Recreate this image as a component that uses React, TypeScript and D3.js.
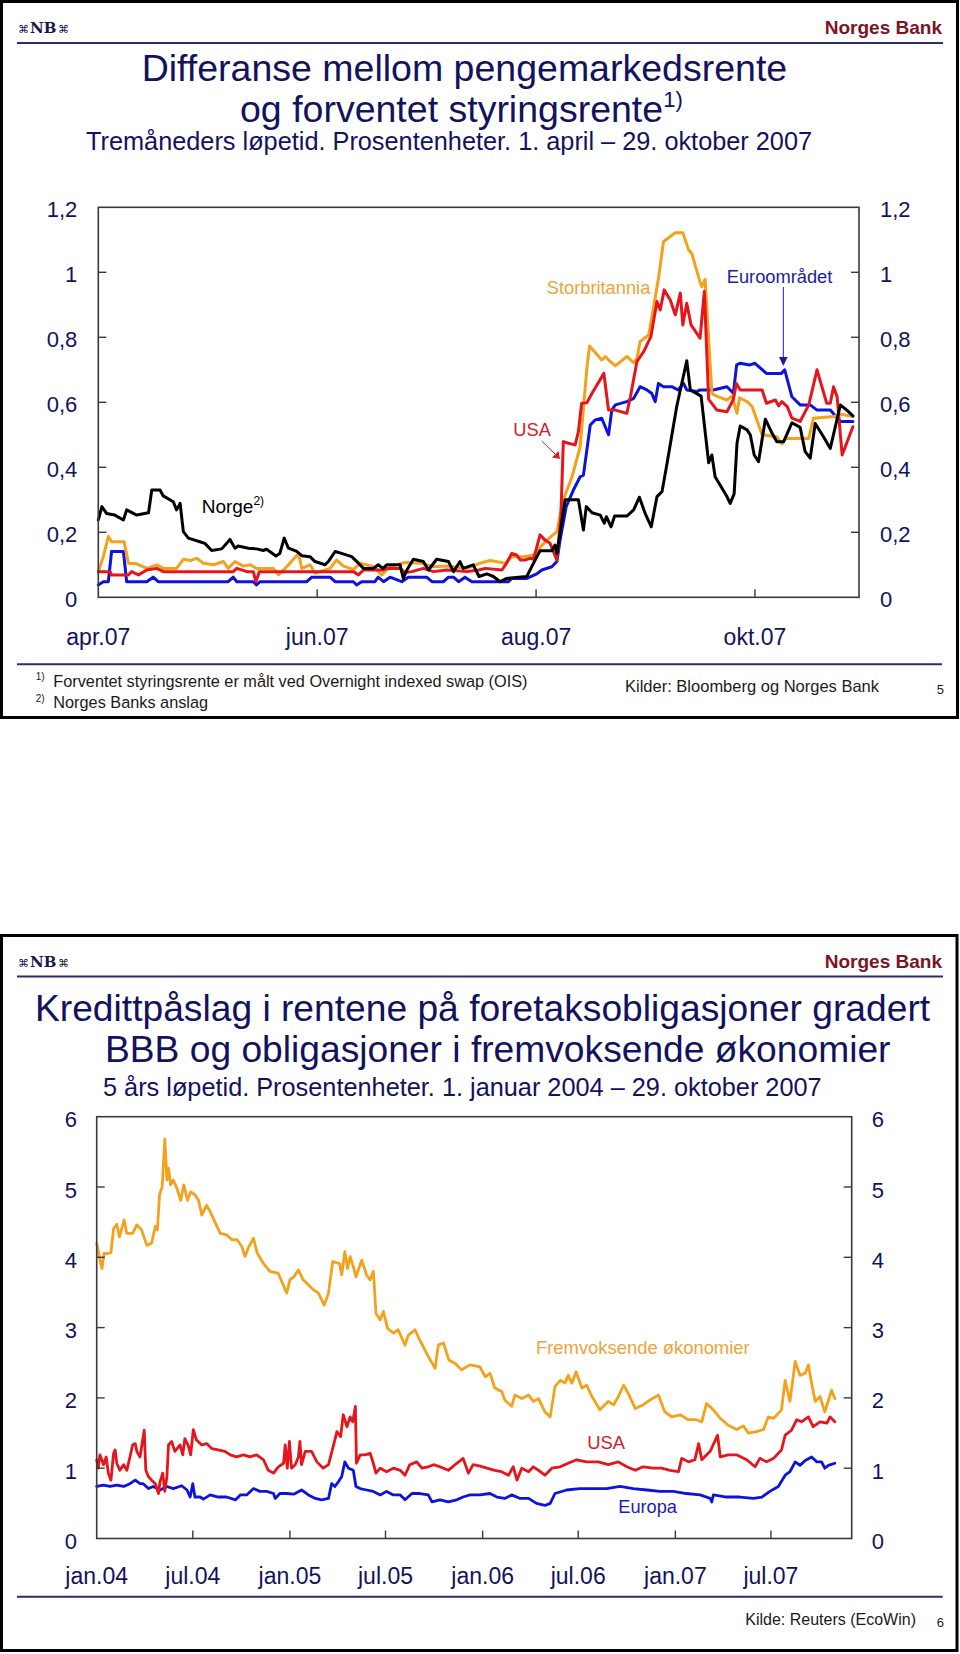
import React from "react";
import * as d3 from "d3";

const FONT = "'Liberation Sans', Arial, Helvetica, sans-serif";
const NAVY = "#12125e";
const ORANGE = "#f4a11c";
const RED = "#e8141c";
const BLUE = "#0c14dc";
const BLACK = "#000000";
const AXIS = "#3a3a3a";

// ---------------- Chart 1 : Differanse mellom pengemarkedsrente og forventet styringsrente ----------------
// x values: days after 1 April 2007
const TOP_BASE = "2007-04-01";
const TOP_END = "2007-10-30";
const topXTickDates = ["2007-04-01", "2007-06-01", "2007-08-01", "2007-10-01"];
const topXTickLabels = ["apr.07", "jun.07", "aug.07", "okt.07"];
const topYTicks = [0, 0.2, 0.4, 0.6, 0.8, 1, 1.2];
const topYTickLabels = ["0", "0,2", "0,4", "0,6", "0,8", "1", "1,2"];

const norge: [number, number][] = [
  [0, 0.238], [1, 0.279], [2.3, 0.258], [4.6, 0.253], [7, 0.238], [7.9, 0.269], [10.7, 0.253], [14, 0.26],
  [14.9, 0.33], [17.2, 0.33], [18.1, 0.312], [20.9, 0.294], [21.8, 0.269], [22.8, 0.289], [23.7, 0.202],
  [25.1, 0.182], [28.3, 0.171], [29.7, 0.166], [31.6, 0.144], [34.4, 0.149], [36.7, 0.178], [38.1, 0.151],
  [39, 0.158], [41.8, 0.151], [44.1, 0.149], [46, 0.144], [46.9, 0.148], [49.5, 0.127], [50.6, 0.135],
  [51.8, 0.182], [53, 0.151], [55.3, 0.141], [56.7, 0.128], [59, 0.125], [60.4, 0.11], [63.2, 0.1],
  [64.1, 0.11], [66, 0.141], [67.8, 0.135], [70.6, 0.125], [72.5, 0.105], [73.9, 0.089], [76.7, 0.089],
  [78, 0.1], [79.3, 0.089], [80.4, 0.1], [84.1, 0.1], [85, 0.058], [86, 0.084], [87.8, 0.117], [90.6, 0.11],
  [92, 0.084], [94.3, 0.117], [97.6, 0.11], [99, 0.079], [100.8, 0.11], [101.7, 0.089], [104.5, 0.1],
  [106.1, 0.064], [108.3, 0.072], [110.1, 0.064], [112, 0.048], [113.8, 0.058], [119.4, 0.064],
  [121.3, 0.105], [123.1, 0.143], [126.4, 0.143], [127.3, 0.161], [127.8, 0.135], [130.1, 0.3],
  [133.8, 0.3], [135.2, 0.207], [136, 0.279], [137.6, 0.26], [139.9, 0.253], [141, 0.228], [141.6, 0.248],
  [142.9, 0.217], [143.9, 0.25], [147.3, 0.25], [149.2, 0.269], [150.8, 0.308], [152.4, 0.258],
  [154.1, 0.217], [155.7, 0.31], [157.1, 0.325], [158.5, 0.412], [161.2, 0.587], [164, 0.728], [165, 0.638],
  [168, 0.619], [170.1, 0.414], [171, 0.438], [171.9, 0.371], [175.2, 0.31], [176.1, 0.289], [177.2, 0.318],
  [178, 0.474], [178.9, 0.527], [180.8, 0.515], [181.7, 0.5], [182.8, 0.438], [184, 0.417], [185.9, 0.548],
  [188, 0.5], [189.1, 0.479], [191, 0.479], [193.3, 0.537], [195.6, 0.523], [197, 0.448], [198.4, 0.428],
  [199.8, 0.535], [202.1, 0.494], [204, 0.458], [206.8, 0.592], [208.6, 0.576], [210.3, 0.558],
];

const storbritannia: [number, number][] = [
  [0, 0.079], [1.4, 0.125], [2.8, 0.187], [3.7, 0.171], [7.2, 0.171], [8.4, 0.105], [10.7, 0.103],
  [13.5, 0.089], [16.3, 0.1], [18.1, 0.089], [21.8, 0.089], [23.7, 0.117], [25.6, 0.113], [27.4, 0.12],
  [29.3, 0.105], [32.1, 0.1], [34.9, 0.11], [36.2, 0.089], [38.1, 0.11], [40.4, 0.096], [42.3, 0.1],
  [44.1, 0.089], [48.8, 0.089], [50.2, 0.069], [52.5, 0.094], [55.8, 0.135], [56.7, 0.089], [59, 0.1],
  [60.4, 0.074], [64.6, 0.089], [66.4, 0.115], [68.3, 0.096], [71.1, 0.086], [73, 0.105], [76.7, 0.094],
  [79, 0.069], [81.3, 0.094], [85.5, 0.107], [89.7, 0.105], [93.4, 0.094], [97.1, 0.096], [102.7, 0.089],
  [106.4, 0.105], [109.2, 0.113], [113.4, 0.105], [115.2, 0.125], [118.5, 0.125], [121.3, 0.13],
  [125, 0.176], [127.8, 0.202], [129.6, 0.3], [132, 0.37], [134.3, 0.464], [136.2, 0.71], [136.9, 0.773],
  [138.5, 0.753], [140.3, 0.73], [141.3, 0.741], [142.7, 0.725], [144.1, 0.712], [147.3, 0.741],
  [149.2, 0.722], [150.1, 0.735], [151, 0.787], [153.4, 0.807], [154.7, 0.889], [156.2, 0.987],
  [157.5, 1.094], [160.8, 1.122], [162.9, 1.122], [164.5, 1.069], [165.4, 1.058], [167.8, 0.966],
  [168.2, 0.956], [169.1, 0.978], [171, 0.628], [171.5, 0.623], [175.2, 0.607], [176.6, 0.619], [178, 0.566],
  [178.7, 0.614], [180.8, 0.602], [182.2, 0.587], [185, 0.5], [189.1, 0.494], [190.5, 0.472], [191.5, 0.489],
  [198, 0.489], [199.3, 0.551], [204.9, 0.556], [206.8, 0.564], [210.3, 0.556],
];

const usaTop: [number, number][] = [
  [0, 0.079], [3.3, 0.079], [3.7, 0.069], [8.4, 0.069], [9.3, 0.079], [11.2, 0.069], [13.5, 0.084],
  [16.3, 0.089], [18.1, 0.079], [37.6, 0.079], [38.6, 0.089], [41.4, 0.079], [43.2, 0.079], [43.9, 0.048],
  [44.9, 0.079], [71.1, 0.079], [72.5, 0.069], [73.9, 0.084], [79.5, 0.084], [80.4, 0.089], [84.1, 0.089],
  [85.5, 0.076], [87.4, 0.079], [90.6, 0.089], [93.4, 0.079], [97.1, 0.084], [102.7, 0.079], [106.1, 0.084],
  [107.8, 0.089], [112.5, 0.084], [113.8, 0.105], [115.2, 0.135], [116.6, 0.13], [117.6, 0.115], [119, 0.115],
  [120.3, 0.12], [121.3, 0.117], [123.1, 0.192], [124.5, 0.176], [125.9, 0.166], [127.8, 0.115],
  [128.9, 0.248], [129.6, 0.479], [131, 0.474], [132.9, 0.469], [133.8, 0.51], [134.7, 0.597], [136.2, 0.599],
  [137.6, 0.628], [140.9, 0.689], [142.2, 0.576], [144.1, 0.576], [147.3, 0.566], [148.3, 0.617],
  [150.1, 0.725], [152, 0.756], [154, 0.802], [155.7, 0.91], [156.6, 0.884], [157.7, 0.946], [159.4, 0.915],
  [160.8, 0.869], [162.2, 0.936], [162.9, 0.838], [164, 0.905], [165.2, 0.838], [167.7, 0.797],
  [168.9, 0.941], [170.1, 0.609], [172.4, 0.576], [175.2, 0.571], [177, 0.609], [177.8, 0.658],
  [178.9, 0.638], [185, 0.638], [186.2, 0.597], [188.7, 0.607], [189.6, 0.589], [190.5, 0.602], [192, 0.587],
  [193.3, 0.551], [195.6, 0.541], [198, 0.592], [200.3, 0.7], [203, 0.597], [204, 0.597], [204.9, 0.648],
  [205.9, 0.617], [207.3, 0.438], [210.3, 0.525],
];

const euroomradet: [number, number][] = [
  [0, 0.038], [1.4, 0.048], [2.8, 0.048], [3.7, 0.141], [7, 0.141], [7.9, 0.048], [13.5, 0.048],
  [15.3, 0.062], [16.7, 0.048], [36.2, 0.048], [37.6, 0.062], [38.6, 0.048], [43.2, 0.048], [44.1, 0.038],
  [45.1, 0.048], [58.1, 0.048], [59.5, 0.062], [64.6, 0.062], [66, 0.048], [71.1, 0.048], [72, 0.038],
  [73.4, 0.048], [77.1, 0.048], [78, 0.062], [79.5, 0.048], [81.3, 0.062], [84.6, 0.048], [86.4, 0.062],
  [91.5, 0.062], [93, 0.048], [96.2, 0.048], [97.6, 0.062], [99, 0.062], [100.4, 0.048], [102.2, 0.062],
  [104.1, 0.048], [114.3, 0.048], [115.2, 0.058], [119.4, 0.058], [122.2, 0.072], [123.6, 0.084],
  [126.4, 0.094], [127.8, 0.11], [128.7, 0.176], [130.4, 0.279], [132.4, 0.33], [134.3, 0.371],
  [135.2, 0.376], [136.6, 0.489], [137.1, 0.53], [138.5, 0.546], [140.3, 0.551], [142.2, 0.5],
  [143.1, 0.576], [144.1, 0.592], [147.3, 0.602], [149.2, 0.612], [151, 0.648], [152.9, 0.638],
  [154.2, 0.628], [155.2, 0.602], [156.1, 0.658], [157.5, 0.648], [159.8, 0.648], [161.6, 0.638],
  [163.1, 0.658], [164, 0.638], [166.8, 0.633], [167.7, 0.638], [171.4, 0.638], [175.2, 0.648], [177, 0.628],
  [177.9, 0.715], [178.8, 0.72], [181.6, 0.715], [183, 0.72], [186.2, 0.689], [190.4, 0.689], [191.3, 0.7],
  [193.3, 0.617], [195.6, 0.592], [198.4, 0.592], [200.3, 0.576], [204, 0.576], [206.8, 0.541], [210.3, 0.541],
];

// ---------------- Chart 2 : Kredittpåslag ----------------
// x values: days after 1 January 2004
const BOT_BASE = "2004-01-01";
const BOT_END = "2007-12-01";
const botXTickDates = ["2004-01-01", "2004-07-01", "2005-01-01", "2005-07-01", "2006-01-01", "2006-07-01", "2007-01-01", "2007-07-01"];
const botXTickLabels = ["jan.04", "jul.04", "jan.05", "jul.05", "jan.06", "jul.06", "jan.07", "jul.07"];
const botYTicks = [0, 1, 2, 3, 4, 5, 6];
const botYTickLabels = ["0", "1", "2", "3", "4", "5", "6"];

const fremvoksende: [number, number][] = [
  [0, 4.2], [5, 4.01], [10, 3.84], [14, 4.06], [20, 4.05], [27, 4.07], [32, 4.41], [38, 4.47], [43, 4.29],
  [52, 4.53], [57, 4.34], [68, 4.34], [76, 4.46], [85, 4.39], [95, 4.17], [104, 4.2], [111, 4.44], [115, 4.39],
  [119, 4.89], [124, 5.0], [129, 5.68], [133, 5.1], [136, 5.27], [140, 5.03], [145, 5.1], [152, 4.98],
  [159, 4.81], [165, 5.03], [172, 4.81], [178, 4.93], [186, 4.89], [193, 4.81], [199, 4.6], [208, 4.74],
  [215, 4.65], [224, 4.5], [234, 4.34], [246, 4.32], [256, 4.25], [266, 4.25], [275, 4.15], [281, 4.01],
  [288, 4.15], [297, 4.27], [304, 4.06], [316, 3.91], [328, 3.8], [344, 3.77], [352, 3.63], [360, 3.49],
  [366, 3.68], [373, 3.72], [382, 3.82], [391, 3.68], [401, 3.61], [410, 3.54], [420, 3.49], [431, 3.32],
  [439, 3.49], [447, 3.94], [460, 3.91], [464, 3.75], [470, 4.08], [475, 3.84], [480, 4.01], [486, 3.87],
  [491, 3.72], [502, 3.96], [511, 3.75], [518, 3.68], [524, 3.8], [529, 3.2], [537, 3.11], [543, 3.23],
  [551, 2.99], [562, 2.92], [571, 2.97], [584, 2.75], [590, 2.89], [603, 2.97], [612, 2.82], [628, 2.59],
  [641, 2.42], [647, 2.75], [657, 2.78], [667, 2.54], [679, 2.49], [691, 2.4], [707, 2.47], [726, 2.44],
  [736, 2.3], [745, 2.35], [754, 2.14], [767, 2.09], [773, 1.97], [786, 1.88], [792, 2.04], [805, 1.99],
  [818, 2.04], [827, 1.95], [837, 1.99], [849, 1.8], [859, 1.73], [868, 2.16], [878, 2.25], [887, 2.21],
  [893, 2.32], [900, 2.21], [908, 2.37], [919, 2.14], [928, 2.18], [938, 2.02], [953, 1.83], [969, 1.95],
  [979, 1.9], [988, 2.02], [998, 2.18], [1007, 2.06], [1020, 1.85], [1035, 1.9], [1048, 1.97], [1064, 2.04],
  [1076, 1.8], [1089, 1.73], [1105, 1.76], [1121, 1.69], [1136, 1.69], [1146, 1.66], [1155, 1.92],
  [1168, 1.83], [1181, 1.71], [1196, 1.61], [1212, 1.55], [1225, 1.6], [1234, 1.5], [1250, 1.52],
  [1263, 1.55], [1272, 1.73], [1282, 1.71], [1291, 1.78], [1297, 1.83], [1304, 2.25], [1313, 1.95],
  [1323, 2.52], [1332, 2.32], [1342, 2.35], [1348, 2.47], [1354, 2.21], [1361, 1.95], [1370, 2.02],
  [1379, 1.8], [1392, 2.11], [1398, 1.99],
];

const usaBot: [number, number][] = [
  [0, 1.12], [3, 1.0], [6, 1.19], [13, 1.05], [18, 1.16], [22, 0.93], [27, 0.83], [32, 1.21], [35, 1.26],
  [38, 1.07], [44, 0.97], [51, 1.05], [57, 0.97], [63, 1.16], [68, 1.33], [73, 1.35], [76, 1.24], [82, 1.16],
  [90, 1.54], [93, 0.97], [98, 0.88], [104, 0.83], [111, 0.78], [117, 0.64], [120, 0.81], [125, 0.93],
  [129, 0.67], [133, 0.88], [136, 1.33], [142, 1.38], [148, 1.24], [158, 1.33], [163, 1.19], [167, 1.42],
  [174, 1.31], [178, 1.19], [183, 1.55], [189, 1.4], [199, 1.33], [208, 1.35], [218, 1.28], [230, 1.26],
  [243, 1.24], [253, 1.19], [265, 1.16], [278, 1.19], [290, 1.16], [303, 1.19], [316, 1.12], [325, 0.97],
  [335, 0.93], [344, 1.02], [354, 1.07], [357, 1.33], [361, 1.0], [365, 1.38], [369, 1.0], [376, 1.05],
  [382, 1.16], [385, 1.38], [388, 1.05], [395, 1.24], [407, 1.24], [417, 1.09], [429, 1.0], [439, 1.05],
  [448, 1.31], [455, 1.52], [462, 1.45], [467, 1.76], [474, 1.59], [480, 1.73], [485, 1.66], [490, 1.88],
  [492, 1.07], [499, 1.19], [508, 1.19], [518, 1.21], [524, 1.07], [529, 0.93], [537, 1.0], [549, 0.95],
  [562, 1.0], [575, 0.97], [584, 0.9], [593, 1.05], [606, 1.09], [616, 1.0], [628, 1.02], [638, 1.05],
  [650, 1.02], [666, 0.97], [682, 1.07], [694, 1.14], [704, 0.93], [713, 1.05], [726, 1.03], [739, 1.0],
  [754, 0.97], [767, 0.95], [780, 0.9], [789, 1.02], [796, 0.83], [805, 1.0], [818, 0.95], [827, 1.02],
  [837, 0.97], [849, 0.9], [862, 1.0], [878, 1.02], [893, 1.07], [909, 1.12], [928, 1.09], [950, 1.09],
  [969, 1.05], [988, 1.09], [1004, 1.02], [1020, 0.97], [1035, 1.02], [1054, 1.0], [1070, 1.0], [1086, 0.97],
  [1102, 0.95], [1108, 1.14], [1121, 1.09], [1133, 1.12], [1140, 1.35], [1146, 1.12], [1162, 1.24],
  [1176, 1.47], [1181, 1.16], [1196, 1.19], [1212, 1.19], [1231, 1.12], [1247, 1.02], [1256, 1.14],
  [1269, 1.09], [1282, 1.14], [1297, 1.26], [1304, 1.47], [1316, 1.54], [1326, 1.69], [1335, 1.66],
  [1348, 1.73], [1357, 1.59], [1370, 1.66], [1383, 1.64], [1389, 1.73], [1398, 1.66],
];

const europa: [number, number][] = [
  [0, 0.74], [13, 0.76], [25, 0.74], [38, 0.76], [51, 0.74], [63, 0.78], [73, 0.83], [82, 0.78], [88, 0.78],
  [98, 0.71], [107, 0.74], [120, 0.69], [133, 0.74], [145, 0.71], [161, 0.75], [171, 0.69], [177, 0.59],
  [182, 0.78], [186, 0.59], [196, 0.59], [202, 0.56], [215, 0.62], [230, 0.59], [246, 0.59], [263, 0.55],
  [272, 0.62], [284, 0.62], [297, 0.71], [309, 0.67], [322, 0.67], [335, 0.64], [338, 0.57], [347, 0.64],
  [360, 0.64], [373, 0.63], [388, 0.69], [401, 0.62], [414, 0.57], [426, 0.55], [439, 0.57], [445, 0.78],
  [451, 0.74], [458, 0.81], [464, 0.88], [470, 1.09], [477, 1.0], [486, 0.97], [491, 0.74], [499, 0.71],
  [511, 0.69], [524, 0.67], [537, 0.62], [549, 0.67], [562, 0.62], [575, 0.62], [584, 0.55], [597, 0.64],
  [612, 0.64], [628, 0.62], [635, 0.52], [650, 0.55], [666, 0.52], [682, 0.55], [694, 0.59], [707, 0.62],
  [726, 0.62], [745, 0.64], [758, 0.59], [773, 0.57], [786, 0.62], [802, 0.57], [818, 0.57], [833, 0.5],
  [849, 0.47], [859, 0.5], [868, 0.64], [890, 0.69], [915, 0.71], [941, 0.71], [966, 0.71], [991, 0.74],
  [1016, 0.71], [1042, 0.69], [1067, 0.67], [1092, 0.67], [1117, 0.64], [1143, 0.62], [1162, 0.57],
  [1165, 0.52], [1168, 0.62], [1193, 0.59], [1218, 0.59], [1244, 0.57], [1260, 0.59], [1275, 0.67],
  [1291, 0.74], [1304, 0.9], [1313, 0.95], [1323, 1.09], [1332, 1.04], [1342, 1.11], [1354, 1.16],
  [1364, 1.09], [1373, 1.09], [1379, 1.0], [1386, 1.04], [1398, 1.07],
];

// ---------------- helpers ----------------
const parse = d3.timeParse("%Y-%m-%d");
const offsetDate = (base: Date, days: number) => new Date(base.getTime() + days * 864e5);

type Series = { data: [number, number][]; color: string };

function Header({ oy }: { oy: number }) {
  return (
    <g>
      <text x={18} y={oy + 33} fontFamily="'DejaVu Sans', sans-serif" fontSize={11} fill="#1a1a4a">⌘</text>
      <text x={30} y={oy + 33} fontFamily="'DejaVu Serif', serif" fontWeight="bold" fontSize={15} fill="#1a1a4a">NB</text>
      <text x={58} y={oy + 33} fontFamily="'DejaVu Sans', sans-serif" fontSize={11} fill="#1a1a4a">⌘</text>
      <text x={942} y={oy + 34} textAnchor="end" fontFamily={FONT} fontWeight="bold" fontSize={19} fill="#7d1424">
        Norges Bank
      </text>
      <line x1={17} x2={943} y1={oy + 43} y2={oy + 43} stroke="#2c2c66" strokeWidth={2} />
    </g>
  );
}

function Plot({
  x, y, series, xTickDates, xTickLabels, yTicks, yTickLabels, xLabelY, leftLabelX, rightLabelX, yLabelDy, lw,
}: {
  x: d3.ScaleTime<number, number>; y: d3.ScaleLinear<number, number>; series: { pts: [Date, number][]; color: string }[];
  xTickDates: string[]; xTickLabels: string[]; yTicks: number[]; yTickLabels: string[];
  xLabelY: number; leftLabelX: number; rightLabelX: number; yLabelDy: number; lw: number;
}) {
  const [x0, x1] = x.range();
  const [y0, y1] = y.range();
  const line = d3.line<[Date, number]>().x((d) => x(d[0])).y((d) => y(d[1]));
  return (
    <g>
      {series.map((s, i) => (
        <path key={i} d={line(s.pts) || ""} fill="none" stroke={s.color} strokeWidth={lw} strokeLinejoin="round" strokeLinecap="round" />
      ))}
      <rect x={x0} y={y1} width={x1 - x0} height={y0 - y1} fill="none" stroke={AXIS} strokeWidth={1.6} />
      {yTicks.map((v, i) => (
        <g key={"y" + i}>
          {i > 0 && i < yTicks.length - 1 && (
            <>
              <line x1={x0} x2={x0 + 8} y1={y(v)} y2={y(v)} stroke={AXIS} strokeWidth={1.4} />
              <line x1={x1} x2={x1 - 8} y1={y(v)} y2={y(v)} stroke={AXIS} strokeWidth={1.4} />
            </>
          )}
          <text x={leftLabelX} y={y(v) + yLabelDy} textAnchor="end" fontFamily={FONT} fontSize={22} fill={NAVY}>{yTickLabels[i]}</text>
          <text x={rightLabelX} y={y(v) + yLabelDy} textAnchor="start" fontFamily={FONT} fontSize={22} fill={NAVY}>{yTickLabels[i]}</text>
        </g>
      ))}
      {xTickDates.map((ds, i) => {
        const xx = x(parse(ds) as Date);
        return (
          <g key={"x" + i}>
            {i > 0 && <line x1={xx} x2={xx} y1={y0} y2={y0 - 8} stroke={AXIS} strokeWidth={1.4} />}
            <text x={xx} y={xLabelY} textAnchor="middle" fontFamily={FONT} fontSize={23} fill={NAVY}>{xTickLabels[i]}</text>
          </g>
        );
      })}
    </g>
  );
}

export default function App() {
  // chart 1 scales
  const topBase = parse(TOP_BASE) as Date;
  const xTop = d3.scaleTime().domain([topBase, parse(TOP_END) as Date]).range([98.3, 859]);
  const yTop = d3.scaleLinear().domain([0, 1.2]).range([597.3, 207.3]);
  const topSeries = [
    { data: euroomradet, color: BLUE },
    { data: storbritannia, color: ORANGE },
    { data: usaTop, color: RED },
    { data: norge, color: BLACK },
  ].map((s) => ({ color: s.color, pts: s.data.map((d) => [offsetDate(topBase, d[0]), d[1]] as [Date, number]) }));

  // chart 2 scales
  const botBase = parse(BOT_BASE) as Date;
  const xBot = d3.scaleTime().domain([botBase, parse(BOT_END) as Date]).range([96.7, 851.7]);
  const yBot = d3.scaleLinear().domain([0, 6]).range([1538.5, 1116.7]);
  const botSeries = [
    { data: fremvoksende, color: ORANGE },
    { data: europa, color: BLUE },
    { data: usaBot, color: RED },
  ].map((s) => ({ color: s.color, pts: s.data.map((d) => [offsetDate(botBase, d[0]), d[1]] as [Date, number]) }));

  return (
    <svg width={960} height={1654} style={{ position: "absolute", left: 0, top: 0, background: "#fff" }} fontFamily={FONT}>
      <rect x={0} y={0} width={960} height={1654} fill="#fff" />

      {/* ---------- Panel 1 ---------- */}
      <rect x={1.5} y={1.5} width={956} height={716} fill="none" stroke="#000" strokeWidth={3} />
      <Header oy={0} />
      <text x={141.7} y={81} fontSize={37.5} fill={NAVY}>Differanse mellom pengemarkedsrente</text>
      <text x={240} y={121.5} fontSize={37.5} fill={NAVY}>
        og forventet styringsrente<tspan fontSize={22} dy={-15}>1)</tspan>
      </text>
      <text x={86} y={150} fontSize={25.3} fill={NAVY}>Tremåneders løpetid. Prosentenheter. 1. april – 29. oktober 2007</text>

      <Plot x={xTop} y={yTop} series={topSeries} xTickDates={topXTickDates} xTickLabels={topXTickLabels}
        yTicks={topYTicks} yTickLabels={topYTickLabels} xLabelY={645} leftLabelX={77.3} rightLabelX={880} yLabelDy={10} lw={3} />

      <text x={201.7} y={513.3} fontSize={19} fill="#000">Norge<tspan fontSize={12} dy={-8}>2)</tspan></text>
      <text x={546.7} y={294} fontSize={18.3} fill="#ecA43c">Storbritannia</text>
      <text x={726.7} y={282.7} fontSize={18.3} fill="#1c1ca0">Euroområdet</text>
      <line x1={783.3} x2={783.3} y1={287} y2={358} stroke="#1c1ca0" strokeWidth={1} />
      <polygon points="779,357 787.6,357 783.3,366" fill="#1c1ca0" />
      <text x={513.3} y={436} fontSize={18.3} fill="#d42028">USA</text>
      <line x1={541.7} x2={555} y1={441} y2={454} stroke="#d42028" strokeWidth={1} />
      <polygon points="552,457.5 558.5,451 560,459" fill="#d42028" />

      <line x1={17} x2={942} y1={664.3} y2={664.3} stroke="#2c2c66" strokeWidth={2} />
      <text x={35.7} y={680} fontSize={10} fill="#1a1a1a">1)</text>
      <text x={53.3} y={686.7} fontSize={16.3} fill="#1a1a1a">Forventet styringsrente er målt ved Overnight indexed swap (OIS)</text>
      <text x={35.7} y={702} fontSize={10} fill="#1a1a1a">2)</text>
      <text x={53.3} y={708.3} fontSize={16.3} fill="#1a1a1a">Norges Banks anslag</text>
      <text x={625} y={691.7} fontSize={16.5} fill="#1a1a1a">Kilder: Bloomberg og Norges Bank</text>
      <text x={936.7} y={694} fontSize={13} fill="#1a1a1a">5</text>

      {/* ---------- Panel 2 ---------- */}
      <rect x={1.5} y={935.5} width={955.5} height={715} fill="none" stroke="#000" strokeWidth={3} />
      <Header oy={933.5} />
      <text x={35} y={1020.5} fontSize={37.2} fill={NAVY}>Kredittpåslag i rentene på foretaksobligasjoner gradert</text>
      <text x={105} y={1062} fontSize={37.2} fill={NAVY}>BBB og obligasjoner i fremvoksende økonomier</text>
      <text x={103} y={1096} fontSize={25.3} fill={NAVY}>5 års løpetid. Prosentenheter. 1. januar 2004 – 29. oktober 2007</text>

      <Plot x={xBot} y={yBot} series={botSeries} xTickDates={botXTickDates} xTickLabels={botXTickLabels}
        yTicks={botYTicks} yTickLabels={botYTickLabels} xLabelY={1584} leftLabelX={77} rightLabelX={871.7} yLabelDy={10.5} lw={2.8} />

      <text x={536} y={1354} fontSize={18.4} fill="#ecA43c">Fremvoksende økonomier</text>
      <text x={587.3} y={1449.3} fontSize={18.4} fill="#d42028">USA</text>
      <text x={618.3} y={1512.7} fontSize={18.2} fill="#1c1cc0">Europa</text>

      <line x1={17} x2={942.7} y1={1596.7} y2={1596.7} stroke="#2c2c66" strokeWidth={2} />
      <text x={916} y={1625} textAnchor="end" fontSize={16} fill="#1a1a1a">Kilde: Reuters (EcoWin)</text>
      <text x={936.7} y={1627} fontSize={13} fill="#1a1a1a">6</text>
    </svg>
  );
}
